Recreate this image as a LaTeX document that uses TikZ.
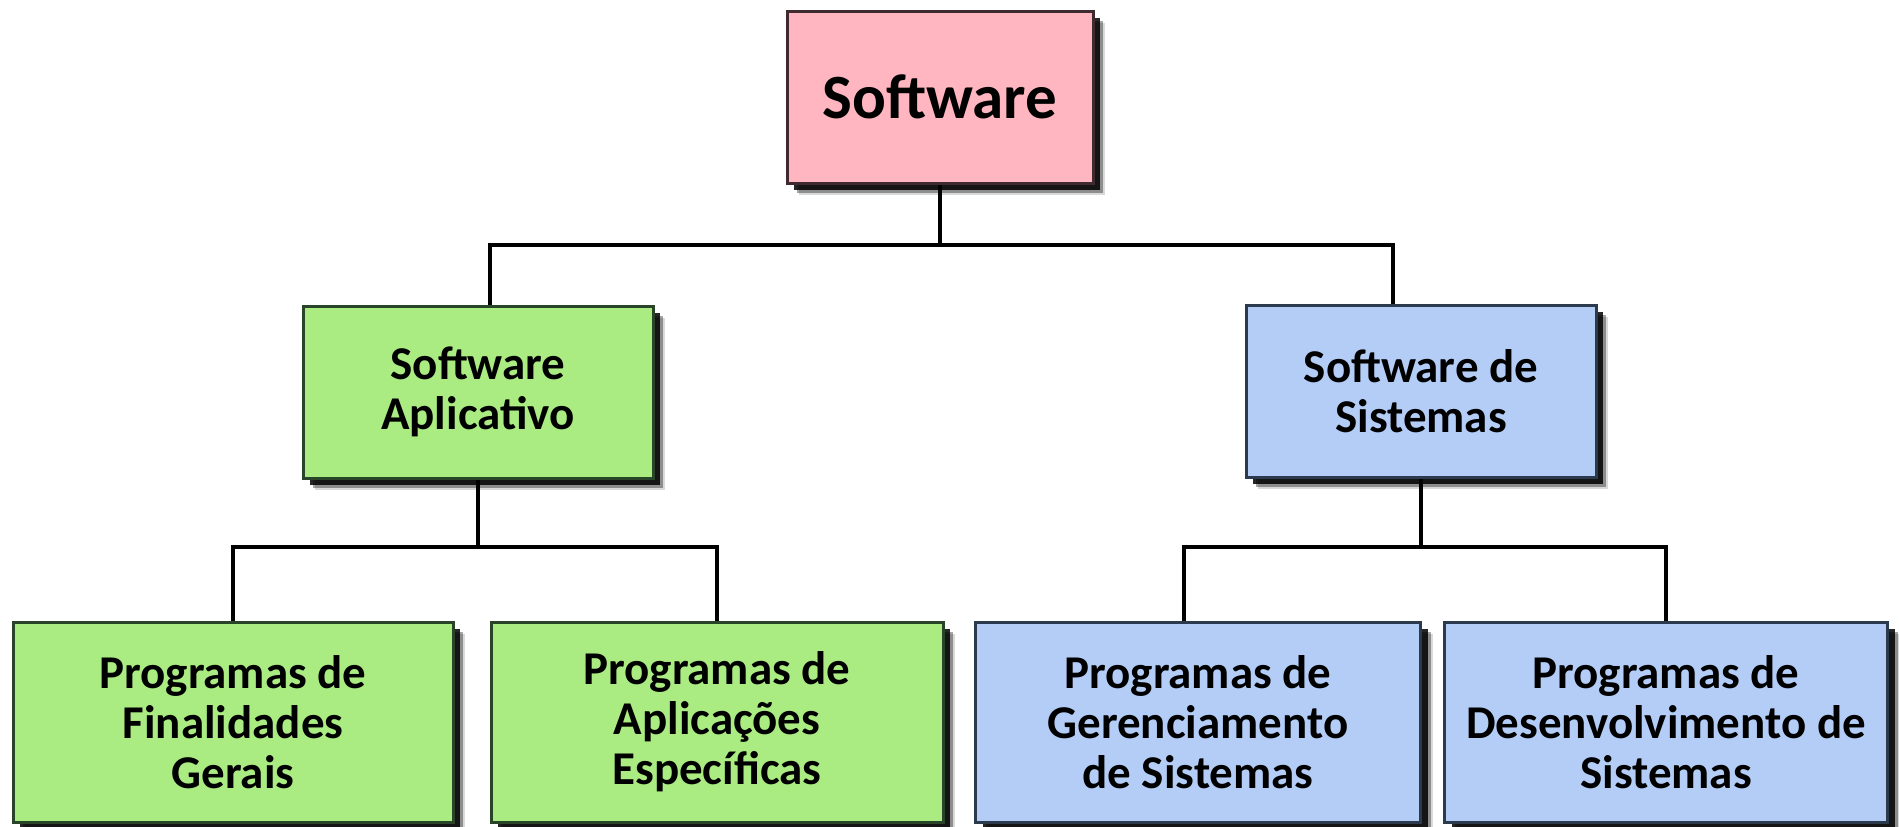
\documentclass[tikz,border=0pt]{standalone}
\usepackage{fontspec}
\setmainfont{Carlito}
\usetikzlibrary{shadows}
\definecolor{rosa}{HTML}{FFB6C1}
\definecolor{bordarosa}{HTML}{3E2A2F}
\definecolor{verde}{HTML}{AAEB82}
\definecolor{bordaverde}{HTML}{2A442A}
\definecolor{azul}{HTML}{B3CDF6}
\definecolor{bordaazul}{HTML}{2C3A4E}
\tikzset{
  caixa/.style={draw, line width=3pt, align=center, inner sep=0pt,
    font=\bfseries\fontsize{47}{50}\selectfont,
    drop shadow={shadow xshift=12pt, shadow yshift=-12pt, fill=black, opacity=.15},
    drop shadow={shadow xshift=10pt, shadow yshift=-10pt, fill=black, opacity=.35},
    drop shadow={shadow xshift=7pt, shadow yshift=-7pt, fill=black, opacity=.85}},
  raiz/.style={caixa, fill=rosa, draw=bordarosa, minimum width=306pt, minimum height=172pt,
    font=\bfseries\fontsize{63}{66}\selectfont},
  aplic/.style={caixa, fill=verde, draw=bordaverde},
  sist/.style={caixa, fill=azul, draw=bordaazul},
  meio/.style={minimum width=350pt, minimum height=172pt},
  folha/.style={minimum width=442pt, minimum height=200pt},
  ligacao/.style={line width=3.5pt, black}
}
\begin{document}
\begin{tikzpicture}[x=1pt, y=-1pt]
            \useasboundingbox (0,0) rectangle (1899,827);
            \node[raiz] (sw) at (940,97) {Software};
            \node[aplic, meio] (apl) at (478,392) {Software\\Aplicativo};
            \node[sist, meio] (sis) at (1421,391) {Software de\\Sistemas};
            \node[aplic, folha, minimum width=440pt] (pfg) at (233,722) {Programas de\\Finalidades\\Gerais};
            \node[aplic, folha, minimum width=452pt] (pae) at (717,722) {Programas de\\Aplicações\\Específicas};
            \node[sist, folha, minimum width=445pt] (pgs) at (1198,722) {Programas de\\Gerenciamento\\de Sistemas};
            \node[sist, folha, minimum width=443pt] (pds) at (1666,722) {Programas de\\Desenvolvimento de\\Sistemas};
            \coordinate (j1) at (940,245);
            \coordinate (j2) at (478,547);
            \coordinate (j3) at (1421,547);
            \draw[ligacao] (sw.south) -- (j1);
            \draw[ligacao] ([xshift=12pt]apl.north) |- (j1) -| ([xshift=-28pt]sis.north);
            \draw[ligacao] (apl.south) -- (j2);
            \draw[ligacao] (pfg.north) |- (j2) -| (pae.north);
            \draw[ligacao] (sis.south) -- (j3);
            \draw[ligacao] ([xshift=-14pt]pgs.north) |- (j3) -| (pds.north);
        \end{tikzpicture}
\end{document}
